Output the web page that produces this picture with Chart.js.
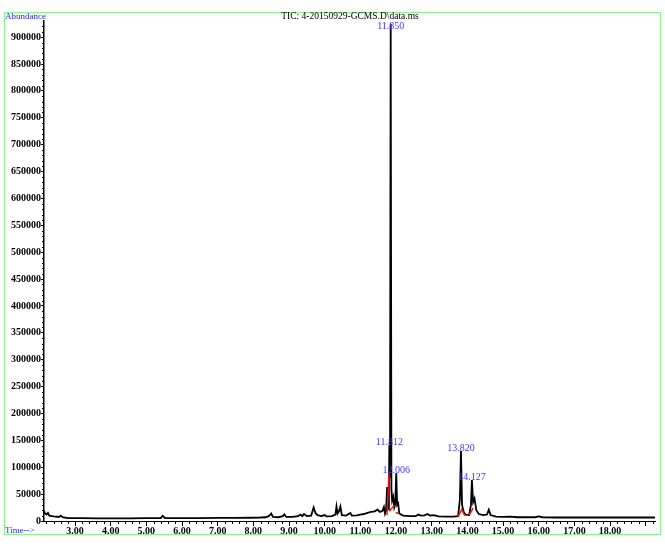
<!DOCTYPE html>
<html>
<head>
<meta charset="utf-8">
<script src="https://cdn.jsdelivr.net/npm/chart.js@4.4.1/dist/chart.umd.min.js"></script>
<style>
    html, body { margin: 0; padding: 0; background: #fff; }
    canvas { display: block; }
</style>
</head>
<body>
<canvas id="ticChart" width="665" height="552"></canvas>
<script>
// TIC trace (time in min, abundance)
const rtTimes = [
    2.13, 2.16, 2.20, 2.24, 2.28, 2.40, 2.55, 2.60, 2.65, 2.80,
    3.20, 3.60, 4.00, 4.50, 5.00, 5.40, 5.46, 5.52, 6.00, 6.50,
    7.00, 7.50, 7.90, 8.20, 8.35, 8.44, 8.50, 8.55, 8.70, 8.83,
    8.87, 8.92, 9.10, 9.25, 9.32, 9.37, 9.42, 9.50, 9.62, 9.69,
    9.74, 9.80, 9.90, 10.00, 10.05, 10.20, 10.30, 10.33, 10.36, 10.40,
    10.44, 10.48, 10.60, 10.72, 10.76, 10.90, 11.00, 11.10, 11.20, 11.30,
    11.40, 11.48, 11.55, 11.62, 11.66, 11.69, 11.72, 11.75, 11.78, 11.80,
    11.812, 11.83, 11.85, 11.87, 11.89, 11.92, 11.95, 11.975, 12.006, 12.03,
    12.06, 12.09, 12.20, 12.40, 12.55, 12.62, 12.70, 12.80, 12.88, 12.95,
    13.05, 13.20, 13.40, 13.60, 13.74, 13.79, 13.82, 13.85, 13.90, 13.95,
    14.05, 14.10, 14.127, 14.16, 14.20, 14.25, 14.32, 14.45, 14.55, 14.60,
    14.65, 14.80, 15.00, 15.20, 15.40, 15.60, 15.90, 16.00, 16.10, 16.50,
    17.00, 17.50, 18.00, 18.50, 19.00, 19.26
];
const abundance = [
    19000, 14000, 12000, 15000, 10000, 8500, 7500, 10000, 7000, 5500,
    5200, 5000, 5000, 5000, 5200, 5300, 9500, 5500, 5500, 5500,
    5800, 5800, 6000, 6500, 7000, 9500, 14000, 7500, 7000, 9000,
    12500, 7500, 7500, 9000, 12000, 9000, 13000, 9000, 10000, 25000,
    15000, 11000, 9000, 11000, 8500, 9000, 12000, 27000, 14000, 18000,
    27000, 11000, 10000, 15000, 10000, 10500, 12000, 13000, 15000, 17000,
    18000, 21000, 17000, 19000, 26000, 14000, 20000, 63000, 22000, 60000,
    141000, 80000, 925000, 60000, 38000, 45000, 25000, 30000, 89000, 30000,
    33000, 14000, 10000, 9000, 9000, 12000, 10000, 10500, 13000, 10000,
    11000, 8500, 8000, 8000, 9000, 40000, 130000, 30000, 16000, 12000,
    11000, 30000, 76000, 35000, 42000, 20000, 13000, 11000, 12000, 21000,
    11000, 8000, 7500, 8000, 7000, 7000, 7000, 8500, 7000, 6500,
    6500, 6500, 6500, 6500, 6500, 6500
];

// red integration baselines (null breaks the segments)
const baseTimes = [11.747, 11.803, null, 11.81, 11.96, null, 11.99, 12.06, null, 13.73, 13.84, 13.93, null, 14.05, 14.16];
const baseValues = [11000, 89000, null, 18000, 30000, null, 16000, 14000, null, 7000, 21000, 10000, null, 11000, 24000];

const peakLabels = ['11.850', '11.812', '12.006', '13.820', '14.127'];
const peakTimes = [11.850, 11.812, 12.006, 13.820, 14.127];
const peakHeights = [925000, 141000, 89000, 130000, 76000];

// axis ticks
const xTicks = [3, 4, 5, 6, 7, 8, 9, 10, 11, 12, 13, 14, 15, 16, 17, 18, 19];
const xTickLabels = ['3.00', '4.00', '5.00', '6.00', '7.00', '8.00', '9.00', '10.00', '11.00',
    '12.00', '13.00', '14.00', '15.00', '16.00', '17.00', '18.00', ''];
const yTicks = [0, 50000, 100000, 150000, 200000, 250000, 300000, 350000, 400000, 450000,
    500000, 550000, 600000, 650000, 700000, 750000, 800000, 850000, 900000];

const xMin = 2.13;
const xMax = 19.26;
const yMax = 930000;

const tracePoints = rtTimes.map((t, i) => ({ x: t, y: abundance[i] }));
const basePoints = baseTimes.map((t, i) => (t === null ? { x: null, y: null } : { x: t, y: baseValues[i] }));

const serif = '"Liberation Serif", "DejaVu Serif", serif';

const decorPlugin = {
    id: 'decor',
    beforeDraw(chart) {
        const ctx = chart.ctx;
        ctx.save();
        ctx.strokeStyle = '#8cf28c';
        ctx.lineWidth = 1;
        ctx.strokeRect(4.5, 12.5, 656, 522);
        ctx.restore();
    },
    afterDraw(chart) {
        const ctx = chart.ctx;
        const xs = chart.scales.x;
        const ys = chart.scales.y;
        const area = chart.chartArea;
        ctx.save();

        // minor ticks
        ctx.strokeStyle = '#000';
        ctx.lineWidth = 1;
        ctx.beginPath();
        for (let i = 11; i <= 96; i++) {
            if (i % 5 === 0) continue;
            const px = Math.round(xs.getPixelForValue(i / 5)) + 0.5;
            ctx.moveTo(px, area.bottom);
            ctx.lineTo(px, area.bottom + 3);
        }
        for (let v = 10000; v <= 920000; v += 10000) {
            if (v % 50000 === 0) continue;
            const py = Math.round(ys.getPixelForValue(v)) + 0.5;
            ctx.moveTo(area.left - 2, py);
            ctx.lineTo(area.left, py);
        }
        ctx.stroke();

        // title and axis names
        ctx.textBaseline = 'middle';
        ctx.fillStyle = '#000';
        ctx.font = '9.5px ' + serif;
        ctx.textAlign = 'center';
        ctx.fillText('TIC: 4-20150929-GCMS.D\\data.ms', 350, 16);

        ctx.fillStyle = '#2222ff';
        ctx.font = '9px ' + serif;
        ctx.textAlign = 'left';
        ctx.fillText('Abundance', 5, 17);
        ctx.fillText('Time-->', 5, 531);

        // peak retention time labels
        ctx.fillStyle = '#4433ff';
        ctx.font = '10px ' + serif;
        ctx.textAlign = 'center';
        peakLabels.forEach((label, i) => {
            const px = xs.getPixelForValue(peakTimes[i]);
            const py = Math.max(ys.getPixelForValue(peakHeights[i]) - 3, area.top + 5);
            ctx.fillText(label, px, py);
        });
        ctx.restore();
    }
};

new Chart(document.getElementById('ticChart'), {
    type: 'line',
    data: {
        datasets: [
            {
                data: basePoints,
                borderColor: '#ff1010',
                borderWidth: 1.5,
                pointRadius: 0,
                spanGaps: false,
                tension: 0
            },
            {
                data: tracePoints,
                borderColor: '#000',
                borderWidth: 1.8,
                pointRadius: 0,
                tension: 0
            }
        ]
    },
    options: {
        responsive: false,
        animation: false,
        devicePixelRatio: 1,
        layout: {
            padding: { left: 4, top: 21, right: 10, bottom: 0 }
        },
        plugins: {
            legend: { display: false },
            tooltip: { enabled: false }
        },
        scales: {
            x: {
                type: 'linear',
                min: xMin,
                max: xMax,
                afterBuildTicks: (scale) => {
                    scale.ticks = xTicks.map(v => ({ value: v }));
                },
                afterFit: (scale) => { scale.height = 31; },
                ticks: {
                    autoSkip: false,
                    maxRotation: 0,
                    padding: -1,
                    color: '#000',
                    font: { family: serif, size: 10, weight: 'bold' },
                    callback: (v, i) => xTickLabels[i]
                },
                grid: {
                    drawOnChartArea: false,
                    tickLength: 5,
                    tickColor: '#000'
                },
                border: { color: '#000', width: 1 }
            },
            y: {
                min: 0,
                max: yMax,
                afterBuildTicks: (scale) => {
                    scale.ticks = yTicks.map(v => ({ value: v }));
                },
                afterFit: (scale) => { scale.width = 40; },
                ticks: {
                    autoSkip: false,
                    padding: 0,
                    color: '#000',
                    font: { family: serif, size: 10, weight: 'bold' },
                    callback: (v) => String(v)
                },
                grid: {
                    drawOnChartArea: false,
                    tickLength: 3,
                    tickColor: '#000'
                },
                border: { color: '#000', width: 1.5 }
            }
        }
    },
    plugins: [decorPlugin]
});
</script>
</body>
</html>
